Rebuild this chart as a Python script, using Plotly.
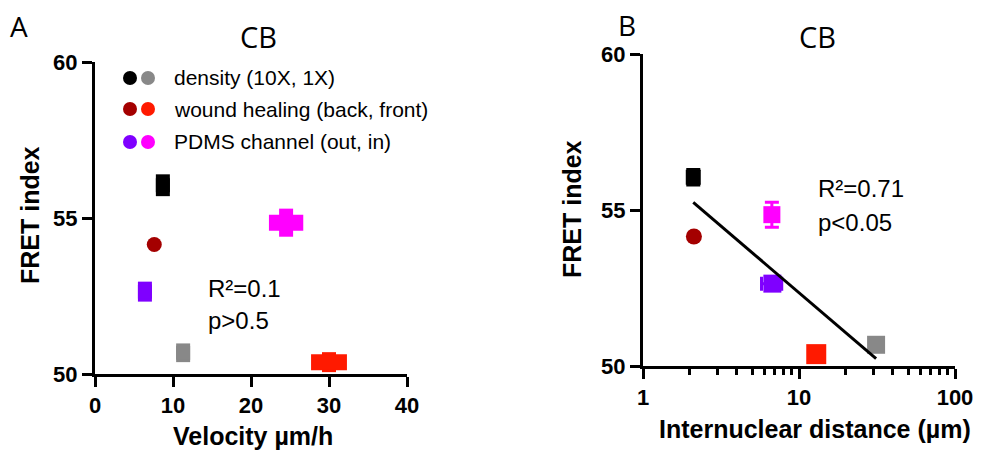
import numpy as np
import plotly.graph_objects as go

W, H = 982, 452

# shared FRET values (same cells in both panels)
groups = ["density 10X", "density 1X", "wound back", "wound front", "PDMS out", "PDMS in"]
colors = ["#000000", "#888888", "#a40000", "#ff1a00", "#7f00ff", "#ff00ff"]
fret = [56.05, 50.68, 54.15, 50.38, 52.64, 54.85]

# panel A: velocity
velocity = [8.7, 11.3, 7.6, 30.0, 6.4, 24.5]
velocity_err = [0, 0, 0, 2.3, 0, 2.2]
fret_err_a = [0.35, 0.3, 0, 0.32, 0.32, 0.45]
symbols_a = ["square", "square", "circle", "square", "square", "square"]
sizes_a = [14, 14, 15, 14, 14, 14]

# panel B: internuclear distance
distance = [2.1, 31.2, 2.12, 12.9, 6.75, 6.7]
distance_err = [0, 0, 0, 0, 1.0, 0]
fret_err_b = [0.25, 0, 0, 0, 0, 0.4]
symbols_b = ["square", "square", "circle", "square", "square", "square"]
sizes_b = [15, 18, 16, 20, 18, 17]

legend_rows = [("density (10X, 1X)", 0, 1),
               ("wound healing (back, front)", 2, 3),
               ("PDMS channel (out, in)", 4, 5)]

FONT = "Liberation Sans, Arial, sans-serif"
TITLE_FONT = "Open Sans, sans-serif"


def px_x(x):
    return x / W


def px_y(y):
    return 1 - y / H


fig = go.Figure()

# panel A points
for i in range(len(groups)):
    fig.add_trace(go.Scatter(
        x=[velocity[i]], y=[fret[i]], mode="markers", xaxis="x", yaxis="y",
        marker=dict(color=colors[i], size=sizes_a[i], symbol=symbols_a[i], line=dict(width=0)),
        error_x=dict(type="data", array=[velocity_err[i]], visible=velocity_err[i] > 0,
                     color=colors[i], thickness=16, width=0),
        error_y=dict(type="data", array=[fret_err_a[i]], visible=fret_err_a[i] > 0,
                     color=colors[i], thickness=14, width=0),
        cliponaxis=False, showlegend=False, name=groups[i]))

# panel B points
for i in range(len(groups)):
    fig.add_trace(go.Scatter(
        x=[distance[i]], y=[fret[i]], mode="markers", xaxis="x2", yaxis="y2",
        marker=dict(color=colors[i], size=sizes_b[i], symbol=symbols_b[i], line=dict(width=0)),
        error_x=dict(type="data", array=[distance_err[i]], arrayminus=[distance_err[i]],
                     visible=distance_err[i] > 0, color=colors[i], thickness=3, width=7),
        error_y=dict(type="data", array=[fret_err_b[i]], visible=fret_err_b[i] > 0,
                     color=colors[i], thickness=3, width=7),
        cliponaxis=False, showlegend=False, name=groups[i]))

# linear fit of FRET vs log10(distance)
logd = np.log10(distance)
slope, intercept = np.polyfit(logd, fret, 1)
fit_x = np.array([min(distance), max(distance)])
fit_y = slope * np.log10(fit_x) + intercept
fig.add_trace(go.Scatter(x=fit_x, y=fit_y, mode="lines", xaxis="x2", yaxis="y2",
                         line=dict(color="black", width=3), showlegend=False,
                         hoverinfo="skip"))

axis_style = dict(showline=True, linewidth=3, linecolor="black", ticks="outside",
                  ticklen=10, tickwidth=3, tickcolor="black", showgrid=False,
                  zeroline=False, automargin=False,
                  tickfont=dict(family=FONT, size=22, color="black", weight="bold"))

fig.update_layout(
    width=W, height=H, margin=dict(l=0, r=0, t=0, b=0),
    paper_bgcolor="white", plot_bgcolor="white",
    xaxis=dict(domain=[px_x(95), px_x(407)], range=[0, 40], tickvals=[0, 10, 20, 30, 40],
               anchor="y", **axis_style),
    yaxis=dict(domain=[px_y(374), px_y(62)], range=[50, 60], tickvals=[50, 55, 60],
               anchor="x", **axis_style),
    xaxis2=dict(domain=[px_x(643), px_x(955)], type="log", range=[0, 2],
                tickvals=[1, 10, 100], ticktext=["1", "10", "100"], anchor="y2",
                minor=dict(tickvals=[2, 3, 4, 5, 6, 7, 8, 9, 20, 30, 40, 50, 60, 70, 80, 90],
                           ticks="outside", ticklen=6, tickwidth=3, tickcolor="black"),
                **axis_style),
    yaxis2=dict(domain=[px_y(366), px_y(54)], range=[50, 60], tickvals=[50, 55, 60],
                anchor="x2", **axis_style),
)

ann = []


def label(text, x, y, size, family=FONT, bold=False, xanchor="center", angle=0, color="black"):
    ann.append(dict(text=text, x=px_x(x), y=px_y(y), xref="paper", yref="paper",
                    showarrow=False, xanchor=xanchor, yanchor="middle", textangle=angle,
                    font=dict(family=family, size=size, color=color,
                              weight="bold" if bold else "normal")))


# panel letters and titles
label("A", 19, 26, 28, family=TITLE_FONT)
label("B", 627, 25, 28, family=TITLE_FONT)
label("CB", 258, 36, 29, family=TITLE_FONT)
label("CB", 817, 37, 29, family=TITLE_FONT)

# axis titles
label("FRET index", 30, 215, 25, bold=True, angle=-90)
label("FRET index", 572, 209, 25, bold=True, angle=-90)
label("Velocity µm/h", 253, 436, 25, bold=True)
label("Internuclear distance (µm)", 815, 429, 25, bold=True)

# stats
label("R²=0.1", 206, 288, 24, xanchor="left")
label("p>0.5", 206, 320, 24, xanchor="left")
label("R²=0.71", 816, 188, 24, xanchor="left")
label("p<0.05", 816, 222, 24, xanchor="left")

# hand-made legend, two dots per row
legend_y = [78, 109, 142]
for (text, a, b), yy in zip(legend_rows, legend_y):
    for cx, ci in ((130, a), (148, b)):
        fig.add_shape(type="circle", xref="paper", yref="paper",
                      x0=px_x(cx - 7), x1=px_x(cx + 7), y0=px_y(yy + 7), y1=px_y(yy - 7),
                      fillcolor=colors[ci], line=dict(width=0))
    label(text, 172, yy, 21, xanchor="left")

fig.update_layout(annotations=ann)

# browser default body margin would shift the whole figure by 8px
fig.write_html("out.html", config={"displayModeBar": False},
               post_script="document.body.style.margin='0';")
